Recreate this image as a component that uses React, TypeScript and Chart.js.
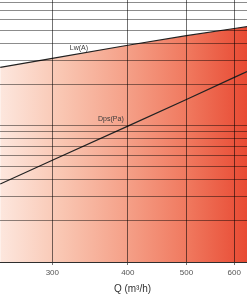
import React, { useEffect, useRef } from "react";
import { Chart, registerables } from "chart.js";

Chart.register(...registerables);

// Data (log-log chart): airflow Q in m³/h
const qValues = [246, 300, 400, 500, 600, 630];
const lwValues = [268, 312, 389, 457, 516, 532];
const dpsValues = [37.3, 55.7, 99.2, 155.5, 226, 249];
const xTickValues = [300, 400, 500, 600];
const yGridValues = [10, 20, 30, 40, 50, 60, 70, 80, 90, 100, 200, 300, 400, 500, 600, 700, 800];
const seriesLabels = ["Lw(A)", "Dps(Pa)"];
const labelAnchorQ = [332, 375];
const labelAnchorV = [371, 111];
const xTitle = "Q (m³/h)";

const FONT = 'Arial, "Liberation Sans", sans-serif';

export default function App() {
  const ref = useRef<HTMLCanvasElement | null>(null);

  useEffect(() => {
    if (!ref.current) return;

    const labelPlugin = {
      id: "lineLabels",
      afterDraw(chart: any) {
        const { ctx, scales, chartArea } = chart;
        const xs = scales.x;
        const ys = scales.y;
        ctx.save();
        ctx.font = `7px ${FONT}`;
        ctx.fillStyle = "#3a3a3a";
        ctx.textAlign = "center";
        ctx.textBaseline = "middle";
        seriesLabels.forEach((t, i) => {
          ctx.fillText(t, xs.getPixelForValue(labelAnchorQ[i]), ys.getPixelForValue(labelAnchorV[i]));
        });
        ctx.font = `10px ${FONT}`;
        ctx.fillStyle = "#333";
        ctx.fillText(xTitle, (chartArea.left + chartArea.right) / 2 + 9, chartArea.bottom + 27);
        ctx.restore();
      },
    };

    const chart = new Chart(ref.current, {
      type: "line",
      data: {
        datasets: [
          {
            label: seriesLabels[1],
            data: qValues.map((q, i) => ({ x: q, y: dpsValues[i] })),
            borderColor: "#222",
            borderWidth: 1.2,
            pointRadius: 0,
            tension: 0,
            fill: false,
          },
          {
            label: seriesLabels[0],
            data: qValues.map((q, i) => ({ x: q, y: lwValues[i] })),
            borderColor: "#222",
            borderWidth: 1.2,
            pointRadius: 0,
            tension: 0,
            fill: "start",
            backgroundColor: (c: any) => {
              const area = c.chart.chartArea;
              if (!area) return "#f5a28a";
              const g = c.chart.ctx.createLinearGradient(area.left, 0, area.right, 0);
              g.addColorStop(0, "#fde7de");
              g.addColorStop(0.25, "#f9c6b2");
              g.addColorStop(0.5, "#f5a28a");
              g.addColorStop(0.75, "#f07a60");
              g.addColorStop(1, "#e84a33");
              return g;
            },
          },
        ],
      },
      options: {
        animation: false,
        responsive: false,
        devicePixelRatio: 1,
        layout: { padding: 0 },
        plugins: { legend: { display: false }, tooltip: { enabled: false } },
        scales: {
          x: {
            type: "logarithmic",
            min: 245.8,
            max: 629.8,
            afterBuildTicks: (s: any) => {
              s.ticks = xTickValues.map((v) => ({ value: v }));
            },
            afterFit: (s: any) => {
              s.height = 34;
            },
            ticks: {
              callback: (v: any) => String(v),
              font: { size: 8, family: FONT },
              color: "#555",
              padding: 3,
              maxRotation: 0,
              autoSkip: false,
            },
            grid: { color: "rgba(0,0,0,0.55)", lineWidth: 1, tickLength: 3, z: 1 },
            border: { color: "#555", width: 1, z: 1 },
          },
          y: {
            type: "logarithmic",
            min: 10,
            max: 835,
            afterBuildTicks: (s: any) => {
              s.ticks = yGridValues.map((v) => ({ value: v }));
            },
            ticks: { display: false },
            grid: { color: "rgba(0,0,0,0.45)", lineWidth: 1, drawTicks: false, z: 1 },
            border: { display: false },
          },
        },
      },
      plugins: [labelPlugin],
    } as any);

    return () => chart.destroy();
  }, []);

  return (
    <div style={{ position: "absolute", left: 0, top: 0, width: 247, height: 296, background: "#fff" }}>
      <canvas ref={ref} width={247} height={296} style={{ display: "block" }} />
    </div>
  );
}
